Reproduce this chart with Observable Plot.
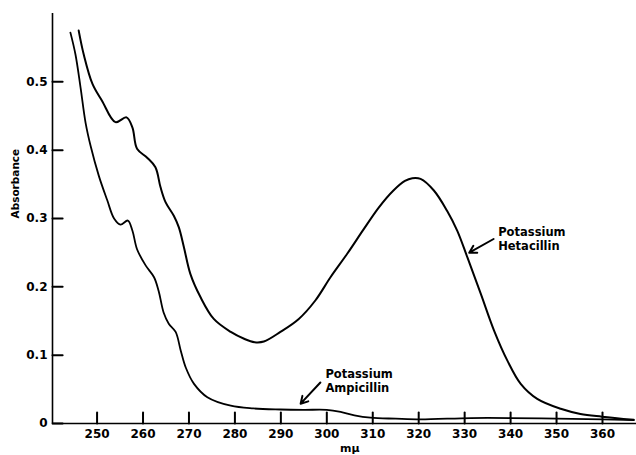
<!DOCTYPE html>
<html>
<head>
<meta charset="utf-8">
<script src="https://cdn.jsdelivr.net/npm/d3@7"></script>
<script src="https://cdn.jsdelivr.net/npm/@observablehq/plot@0.6"></script>
<style>
  html, body { margin: 0; padding: 0; background: #fff; }
  svg { display: block; }
</style>
</head>
<body>
<div id="chart"></div>
<script>
// Potassium Hetacillin spectrum (wavelength mμ, absorbance)
const hetaWl = [246.0, 247.1, 249.0, 251.1, 254.0, 256.4, 257.7, 258.7, 260.9, 262.7, 263.8, 264.9, 266.7, 267.8, 268.9, 270.3, 272.5, 275.4, 279.1, 282.0, 284.3, 286.3, 289.9, 293.9, 297.5, 300.8, 304.4, 308.0, 311.3, 314.5, 317.0, 318.6, 320.4, 323.3, 326.2, 328.4, 330.6, 333.5, 336.4, 339.3, 342.2, 345.8, 350.9, 355.2, 359.9, 366.8];
const hetaAbs = [0.575, 0.540, 0.497, 0.472, 0.441, 0.448, 0.433, 0.402, 0.389, 0.375, 0.346, 0.324, 0.304, 0.287, 0.258, 0.219, 0.185, 0.153, 0.134, 0.124, 0.119, 0.120, 0.134, 0.153, 0.180, 0.214, 0.248, 0.284, 0.316, 0.341, 0.355, 0.359, 0.358, 0.341, 0.311, 0.282, 0.243, 0.190, 0.136, 0.092, 0.058, 0.036, 0.0215, 0.014, 0.010, 0.0054];

// Potassium Ampicillin spectrum
const ampiWl = [244.2, 245.3, 246.4, 247.5, 248.6, 250.4, 252.2, 253.7, 255.1, 256.7, 257.7, 258.7, 260.6, 262.4, 263.4, 264.5, 265.6, 267.1, 268.2, 269.3, 271.1, 274.0, 279.1, 284.0, 289.9, 295.0, 300.0, 303.0, 306.0, 309.5, 315.0, 320.4, 331.3, 340.0, 350.0, 360.0, 366.8];
const ampiAbs = [0.572, 0.540, 0.492, 0.440, 0.406, 0.362, 0.327, 0.300, 0.291, 0.297, 0.282, 0.255, 0.231, 0.214, 0.194, 0.162, 0.146, 0.134, 0.107, 0.082, 0.058, 0.0385, 0.026, 0.022, 0.0205, 0.020, 0.020, 0.017, 0.012, 0.0085, 0.007, 0.006, 0.008, 0.008, 0.007, 0.006, 0.005];

const xTicks = [250, 260, 270, 280, 290, 300, 310, 320, 330, 340, 350, 360];
const yTicks = [0, 0.1, 0.2, 0.3, 0.4, 0.5];
const yTickLabels = ["0", "0.1", "0.2", "0.3", "0.4", "0.5"];
const seriesNames = ["Potassium\nHetacillin", "Potassium\nAmpicillin"];
const xLabel = "mμ";
const yLabel = "Absorbance";

const heta = hetaWl.map((w, i) => ({wl: w, a: hetaAbs[i]}));
const ampi = ampiWl.map((w, i) => ({wl: w, a: ampiAbs[i]}));

const font = "'DejaVu Sans', sans-serif";
const xDomain = [240.3, 367.4];
const yDomain = [0, 0.6];

const chart = Plot.plot({
  width: 636,
  height: 455,
  marginLeft: 52,
  marginRight: 0,
  marginTop: 13,
  marginBottom: 32,
  style: {fontFamily: font, fontWeight: "bold", fontSize: "12px", color: "#000", background: "#fff"},
  x: {domain: xDomain},
  y: {domain: yDomain},
  marks: [
    // axis lines
    Plot.ruleX([xDomain[0]], {stroke: "#000", strokeWidth: 1.6}),
    Plot.ruleY([0], {stroke: "#000", strokeWidth: 1.6}),
    // inward tick marks, drawn as headless arrow segments
    Plot.arrow(yTicks, {x1: () => xDomain[0], x2: () => xDomain[0] + 2.2, y1: d => d, y2: d => d, headLength: 0, stroke: "#000", strokeWidth: 2}),
    Plot.arrow(xTicks, {x1: d => d, x2: d => d, y1: () => 0, y2: () => 0.016, headLength: 0, stroke: "#000", strokeWidth: 2}),
    // tick labels
    Plot.axisY({ticks: yTicks, tickSize: 0, tickPadding: 5, tickFormat: (d, i) => yTickLabels[i], fontSize: 12, label: null}),
    Plot.axisX({ticks: xTicks, tickSize: 0, tickPadding: 6, fontSize: 12, label: null}),
    // axis titles
    Plot.text([yLabel], {frameAnchor: "left", dx: -37, rotate: -90, fontSize: 10.5, fontWeight: "bold", text: d => d}),
    Plot.text([xLabel], {x: [305], y: [0], dy: 25, fontSize: 11, fontWeight: "bold", text: d => d}),
    // curves
    Plot.line(heta, {x: "wl", y: "a", stroke: "#000", strokeWidth: 2, curve: "catmull-rom"}),
    Plot.line(ampi, {x: "wl", y: "a", stroke: "#000", strokeWidth: 1.8, curve: "catmull-rom"}),
    // annotations
    Plot.text([seriesNames[0]], {x: [337.3], y: [0.271], text: d => d, textAnchor: "start", lineHeight: 1.2, fontSize: 11.5, fontWeight: "bold", fill: "#000"}),
    Plot.arrow([0], {x1: [336.3], y1: [0.270], x2: [331.0], y2: [0.250], stroke: "#000", strokeWidth: 2, headLength: 6}),
    Plot.text([seriesNames[1]], {x: [299.7], y: [0.063], text: d => d, textAnchor: "start", lineHeight: 1.2, fontSize: 11.5, fontWeight: "bold", fill: "#000"}),
    Plot.arrow([0], {x1: [298.6], y1: [0.060], x2: [294.3], y2: [0.029], stroke: "#000", strokeWidth: 2, headLength: 6})
  ]
});
document.getElementById("chart").appendChild(chart);
</script>
</body>
</html>
